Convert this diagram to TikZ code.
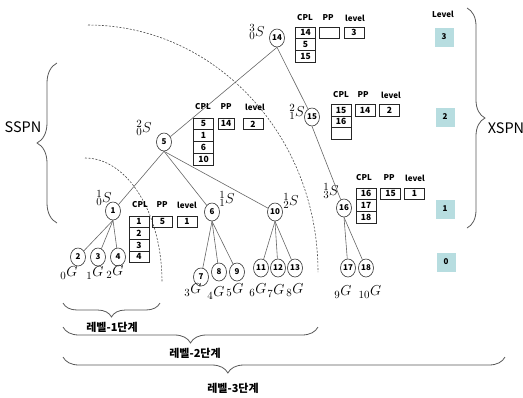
\documentclass[tikz,border=0pt]{standalone}
\usepackage{fontspec}
\setsansfont{Noto Sans CJK KR}
\newfontfamily\kr{Noto Sans CJK KR}
\usetikzlibrary{shapes.geometric,decorations.pathreplacing}
\definecolor{lvlcol}{RGB}{183,221,224}
\DeclareMathSizes{15}{15}{10.5}{8}
\begin{document}
\begin{tikzpicture}[x=1pt,y=-1pt,
  nd/.style={ellipse,draw=black!80,line width=0.6pt,minimum width=15pt,minimum height=18pt,inner sep=0pt,font=\sffamily\bfseries\fontsize{8}{8}\selectfont},
  cell/.style={draw=black!85,line width=0.7pt,minimum width=20pt,minimum height=11.7pt,inner sep=0pt,font=\sffamily\bfseries\fontsize{8.5}{8.5}\selectfont},
  hdr/.style={font=\sffamily\bfseries\fontsize{8}{8}\selectfont,inner sep=0pt},
  lvl/.style={fill=lvlcol,minimum width=19pt,minimum height=19pt,inner sep=0pt,font=\sffamily\bfseries\fontsize{8}{8}\selectfont},
  edge/.style={draw=black!60,line width=0.6pt},
  brc/.style={draw=black!65,line width=0.8pt,decorate},
  slab/.style={inner sep=0pt,font=\fontsize{15}{15}\selectfont},
  dsh/.style={draw=black!70,line width=0.6pt,dash pattern=on 2pt off 1.5pt},
  big/.style={font=\sffamily\fontsize{14.5}{14.5}\selectfont,inner sep=0pt},
  krt/.style={font=\kr\bfseries\fontsize{11}{11}\selectfont,inner sep=0pt}
]
\useasboundingbox (0,0) rectangle (523,397);

% dashed arcs
\draw[dsh] (88,25) arc[start angle=90,end angle=0,x radius=230pt,y radius=247pt];
\draw[dsh] (85,158) arc[start angle=90,end angle=0,x radius=77pt,y radius=124pt];

% tree nodes
\node[nd] (n14) at (277,38) {14};
\node[nd] (n15) at (312,117) {15};
\node[nd] (n5) at (164,142) {5};
\node[nd] (n1) at (113,211) {1};
\node[nd] (n6) at (212,212) {6};
\node[nd] (n10) at (275,212) {10};
\node[nd] (n16) at (344,208) {16};
\node[nd] (n2) at (78,257) {2};
\node[nd] (n3) at (98,257) {3};
\node[nd] (n4) at (118,257) {4};
\node[nd] (n7) at (201,277) {7};
\node[nd] (n8) at (219,272) {8};
\node[nd] (n9) at (237,272) {9};
\node[nd] (n11) at (261,268) {11};
\node[nd] (n12) at (278,268) {12};
\node[nd] (n13) at (295,268) {13};
\node[nd] (n17) at (348,268) {17};
\node[nd] (n18) at (366,268) {18};

% edges
\draw[edge] (n14.south) -- (n5);
\draw[edge] (n14.south) -- (n15);
\draw[edge] (n15.south) -- (n16);
\draw[edge] (n5.south) -- (n1);
\draw[edge] (n5.south) -- (n6);
\draw[edge] (n5.south) -- (n10);
\draw[edge] (n1.south) -- (n2);
\draw[edge] (n1.south) -- (n3);
\draw[edge] (n1.south) -- (n4);
\draw[edge] (n6.south) -- (n7);
\draw[edge] (n6.south) -- (n8);
\draw[edge] (n6.south) -- (n9);
\draw[edge] (n10.south) -- (n11);
\draw[edge] (n10.south) -- (n12);
\draw[edge] (n10.south) -- (n13);
\draw[edge] (n16.south) -- (n17);
\draw[edge] (n16.south) -- (n18);

% S labels
\node[slab] (s14) at (257,32) {${}^{3}_{0}S$};
\node[slab] (s15) at (297,112) {${}^{2}_{1}S$};
\node[slab] (s5) at (144,128) {${}^{2}_{0}S$};
\node[slab] (s1) at (104,198) {${}^{1}_{0}S$};
\node[slab] (s6) at (227,199) {${}^{1}_{1}S$};
\node[slab] (s10) at (291,201) {${}^{1}_{2}S$};
\node[slab] (s16) at (331,191) {${}^{1}_{3}S$};

% G labels
\node[slab] (g0) at (69,273) {${}_{0}G$};
\node[slab] (g1) at (95,273) {${}_{1}G$};
\node[slab] (g2) at (115,272) {${}_{2}G$};
\node[slab] (g3) at (193,290) {${}_{3}G$};
\node[slab] (g4) at (216,293) {${}_{4}G$};
\node[slab] (g5) at (235,290) {${}_{5}G$};
\node[slab] (g6) at (258,290) {${}_{6}G$};
\node[slab] (g7) at (276,291) {${}_{7}G$};
\node[slab] (g8) at (295,290) {${}_{8}G$};
\node[slab] (g9) at (343,292) {${}_{9}G$};
\node[slab] (g10) at (370,292) {${}_{10}G$};

% table for 14
\node[hdr] (h14c) at (305,18) {CPL};
\node[hdr] (h14p) at (328,18) {PP};
\node[hdr] (h14l) at (355,18) {level};
\node[cell] (c14a) at (305.5,32.8) {14};
\node[cell] (c14b) at (305.5,44.5) {5};
\node[cell] (c14c) at (305.5,56.2) {15};
\node[cell] (p14) at (329.5,32.8) {};
\node[cell] (l14) at (354,32.8) {3};

% table for 15
\node[hdr] (h15c) at (341,95) {CPL};
\node[hdr] (h15p) at (363,95) {PP};
\node[hdr] (h15l) at (391,95) {level};
\node[cell] (c15a) at (341,110) {15};
\node[cell] (c15b) at (341,121.7) {16};
\node[cell] (c15c) at (341,133.4) {};
\node[cell] (p15) at (365,110) {14};
\node[cell] (l15) at (389.5,110) {2};

% table for 5
\node[hdr] (h5c) at (203,107) {CPL};
\node[hdr] (h5p) at (226,107) {PP};
\node[hdr] (h5l) at (255,107) {level};
\node[cell] (c5a) at (203.5,123.9) {5};
\node[cell] (c5b) at (203.5,135.6) {1};
\node[cell] (c5c) at (203.5,147.3) {6};
\node[cell] (c5d) at (203.5,159) {10};
\node[cell,minimum width=16pt] (p5) at (226,123.9) {14};
\node[cell] (l5) at (253,123.9) {2};

% table for 1
\node[hdr] (h1c) at (140,205) {CPL};
\node[hdr] (h1p) at (162,205) {PP};
\node[hdr] (h1l) at (187,205) {level};
\node[cell] (c1a) at (139,221.8) {1};
\node[cell] (c1b) at (139,233.5) {2};
\node[cell] (c1c) at (139,245.2) {3};
\node[cell] (c1d) at (139,256.9) {4};
\node[cell] (p1) at (162.5,221.8) {5};
\node[cell] (l1) at (187,221.8) {1};

% table for 16
\node[hdr] (h16c) at (364,178) {CPL};
\node[hdr] (h16p) at (389,178) {PP};
\node[hdr] (h16l) at (415,178) {level};
\node[cell] (c16a) at (366,193.8) {16};
\node[cell] (c16b) at (366,205.5) {17};
\node[cell] (c16c) at (366,217.2) {18};
\node[cell] (p16) at (390.5,193.8) {15};
\node[cell] (l16) at (414.5,193.8) {1};

% level column
\node[hdr] (lvh) at (443,14) {Level};
\node[lvl] (lv3) at (444,37) {3};
\node[lvl] (lv2) at (445,117) {2};
\node[lvl] (lv1) at (445,209) {1};
\node[lvl] (lv0) at (446,262) {0};

% braces
\draw[brc,decoration={brace,amplitude=20pt}] (57,223) -- (57,63);
\node[big] (sspn) at (23,127) {SSPN};
\draw[brc,decoration={brace,amplitude=18pt}] (467,8) -- (467,228);
\node[big] (xspn) at (506,128) {XSPN};
\draw[brc,decoration={brace,amplitude=14pt}] (160,303) -- (63,303);
\node[krt] (t1) at (112,327) {레벨-1단계};
\draw[brc,decoration={brace,amplitude=16pt}] (318,327) -- (63,327);
\node[krt] (t2) at (195,353) {레벨-2단계};
\draw[brc,decoration={brace,amplitude=16pt,aspect=0.627}] (505,357) -- (63,357);
\node[krt] (t3) at (233,388) {레벨-3단계};
\end{tikzpicture}
\end{document}
